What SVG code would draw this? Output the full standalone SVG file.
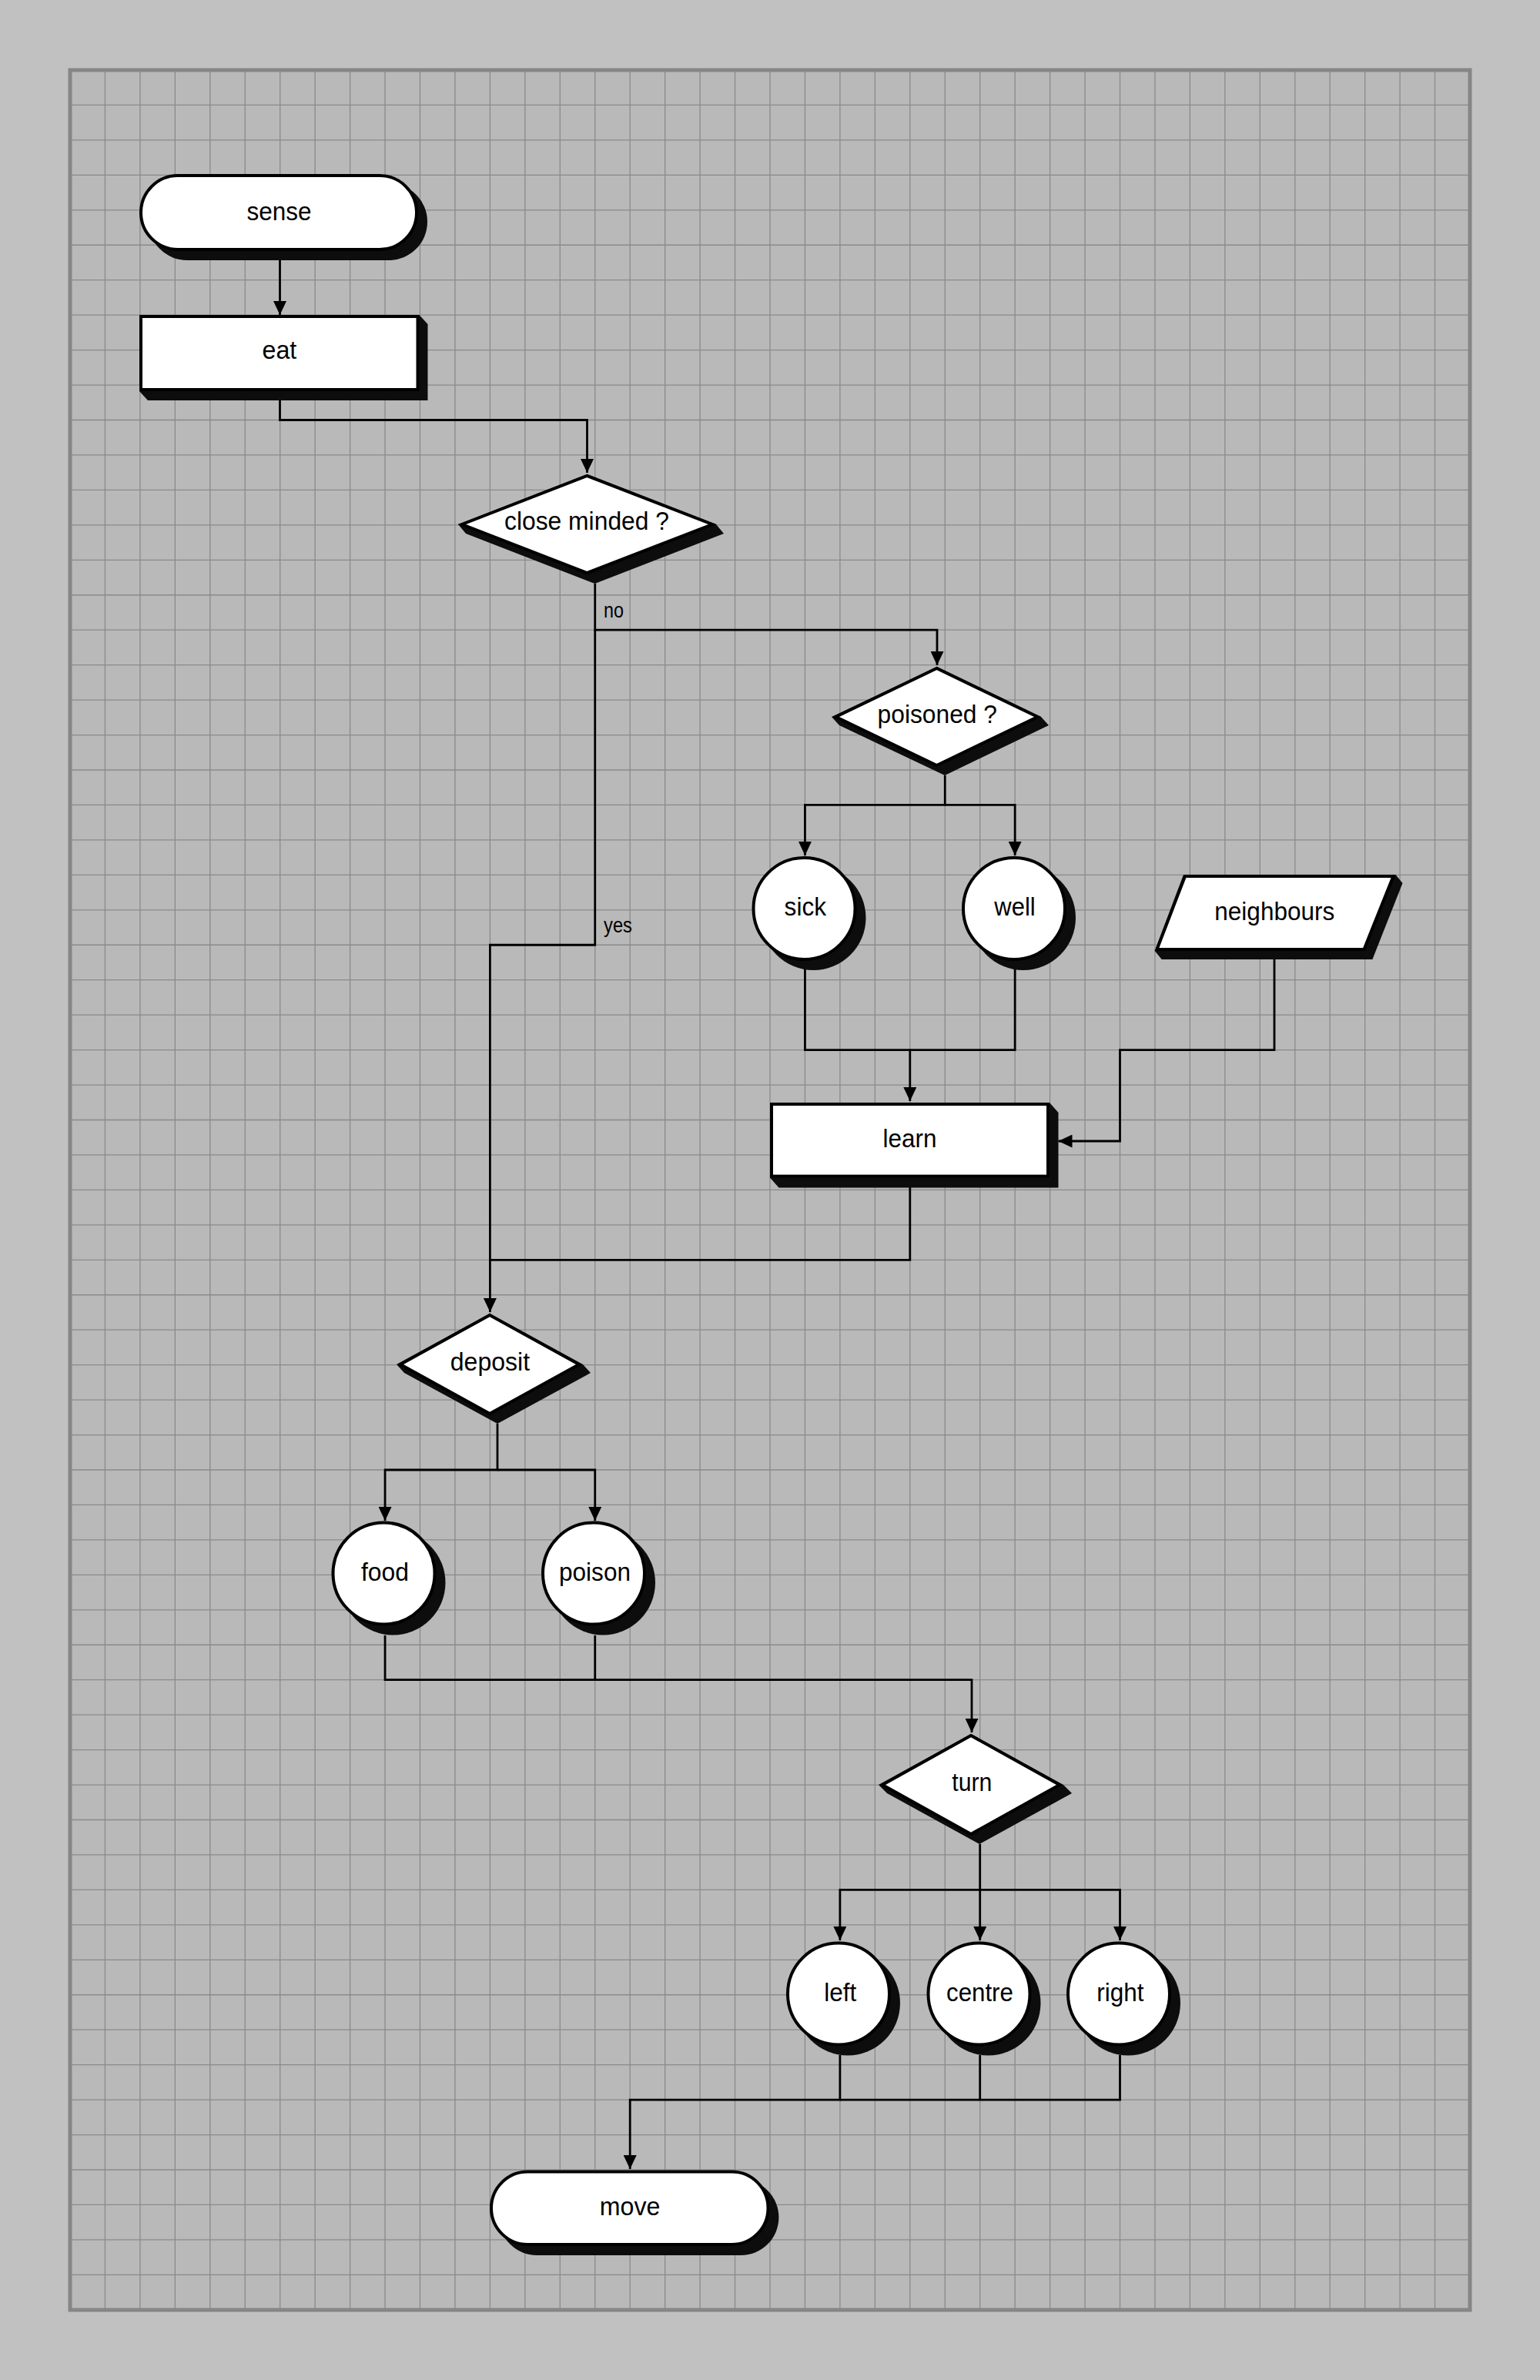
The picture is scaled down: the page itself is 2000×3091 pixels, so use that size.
<svg xmlns="http://www.w3.org/2000/svg" width="2000" height="3091" viewBox="0 0 2000 3091">
<defs>
<style>
.shape{fill:#ffffff;stroke:#000000;stroke-width:4;stroke-linejoin:miter}
.shadow{fill:#0d0d0d;stroke:none}
.lbl{font-family:"Liberation Sans",Arial,Helvetica,sans-serif;font-size:34px;fill:#000000}
.elbl{font-family:"Liberation Sans",Arial,Helvetica,sans-serif;font-size:27px;fill:#000000}
.conn{fill:none;stroke:#000000;stroke-width:2.8;stroke-linejoin:miter}
.arrow{marker-end:url(#ah)}
.grid{fill:none;stroke:#8a8a8a;stroke-width:1.3}
</style>
<marker id="ah" markerUnits="userSpaceOnUse" markerWidth="18" markerHeight="17" refX="18" refY="8.5" orient="auto">
<path d="M0,0 L18,8.5 L0,17 Z" fill="#000000"/>
</marker>
</defs>

<g id="background">
<rect x="0" y="0" width="2000" height="3091" fill="#c1c1c1"/>
<rect x="91" y="91" width="1818" height="2909" fill="#b9b9b9"/>
<path class="grid" d="M136.45,91V3000M181.9,91V3000M227.35,91V3000M272.8,91V3000M318.25,91V3000M363.7,91V3000M409.15,91V3000M454.6,91V3000M500.05,91V3000M545.5,91V3000M590.95,91V3000M636.4,91V3000M681.85,91V3000M727.3,91V3000M772.75,91V3000M818.2,91V3000M863.65,91V3000M909.1,91V3000M954.55,91V3000M1000,91V3000M1045.45,91V3000M1090.9,91V3000M1136.35,91V3000M1181.8,91V3000M1227.25,91V3000M1272.7,91V3000M1318.15,91V3000M1363.6,91V3000M1409.05,91V3000M1454.5,91V3000M1499.95,91V3000M1545.4,91V3000M1590.85,91V3000M1636.3,91V3000M1681.75,91V3000M1727.2,91V3000M1772.65,91V3000M1818.1,91V3000M1863.55,91V3000
M91,136.45H1909M91,181.9H1909M91,227.35H1909M91,272.8H1909M91,318.25H1909M91,363.7H1909M91,409.15H1909M91,454.6H1909M91,500.05H1909M91,545.5H1909M91,590.95H1909M91,636.4H1909M91,681.85H1909M91,727.3H1909M91,772.75H1909M91,818.2H1909M91,863.65H1909M91,909.1H1909M91,954.55H1909M91,1000H1909M91,1045.45H1909M91,1090.9H1909M91,1136.35H1909M91,1181.8H1909M91,1227.25H1909M91,1272.7H1909M91,1318.15H1909M91,1363.6H1909M91,1409.05H1909M91,1454.5H1909M91,1499.95H1909M91,1545.4H1909M91,1590.85H1909M91,1636.3H1909M91,1681.75H1909M91,1727.2H1909M91,1772.65H1909M91,1818.1H1909M91,1863.55H1909M91,1909H1909M91,1954.45H1909M91,1999.9H1909M91,2045.35H1909M91,2090.8H1909M91,2136.25H1909M91,2181.7H1909M91,2227.15H1909M91,2272.6H1909M91,2318.05H1909M91,2363.5H1909M91,2408.95H1909M91,2454.4H1909M91,2499.85H1909M91,2545.3H1909M91,2590.75H1909M91,2636.2H1909M91,2681.65H1909M91,2727.1H1909M91,2772.55H1909M91,2818H1909M91,2863.45H1909M91,2908.9H1909M91,2954.35H1909"/>
<rect x="91" y="91" width="1818" height="2909" fill="none" stroke="#868686" stroke-width="5"/>
</g>

<g id="connectors">
<path class="conn arrow" d="M363.5,338 V409"/>
<path class="conn arrow" d="M363.5,520 V545.5 H762.5 V614"/>
<path class="conn arrow" d="M772.75,758 V818.2 H1217 V864"/>
<path class="conn arrow" d="M772.75,818.2 V1227.25 H636.4 V1704"/>
<path class="conn arrow" d="M1227.25,1007 V1045.45 H1045.45 V1111"/>
<path class="conn arrow" d="M1227.25,1045.45 H1318.15 V1111"/>
<path class="conn arrow" d="M1045.45,1255 V1363.6 H1181.8 V1430"/>
<path class="conn" d="M1318.15,1255 V1363.6 H1181.8"/>
<path class="conn arrow" d="M1655,1246 V1363.6 H1454.5 V1482 H1374.5"/>
<path class="conn" d="M1181.8,1542 V1636.3 H636.4"/>
<path class="conn arrow" d="M646,1849 V1909 H500.05 V1975"/>
<path class="conn arrow" d="M646,1909 H772.75 V1975"/>
<path class="conn arrow" d="M500.05,2124 V2181.7 H1262 V2250"/>
<path class="conn" d="M772.75,2124 V2181.7"/>
<path class="conn arrow" d="M1272.7,2395 V2454.4 H1090.9 V2520"/>
<path class="conn arrow" d="M1272.7,2454.4 V2520"/>
<path class="conn arrow" d="M1272.7,2454.4 H1454.5 V2520"/>
<path class="conn arrow" d="M1090.9,2669 V2727.1 H818.2 V2817"/>
<path class="conn" d="M1272.7,2669 V2727.1"/>
<path class="conn" d="M1454.5,2669 V2727.1 H1090.9"/>
<text class="elbl" x="784" y="802" textLength="26" lengthAdjust="spacingAndGlyphs">no</text>
<text class="elbl" x="784" y="1211" textLength="37" lengthAdjust="spacingAndGlyphs">yes</text>
</g>

<g id="node-sense">
<rect class="shadow" x="193" y="238" width="362" height="100" rx="50" ry="50"/>
<rect class="shape" x="183" y="228" width="358" height="96" rx="48" ry="48"/>
<text class="lbl" x="320.5" y="286" textLength="84" lengthAdjust="spacingAndGlyphs">sense</text>
</g>

<g id="node-eat">
<polygon class="shadow" points="181,409 544.5,409 555.5,421 555.5,520 192,520 181,508"/>
<rect class="shape" x="183" y="411" width="359.5" height="95"/>
<text class="lbl" x="340.5" y="466" textLength="44.8" lengthAdjust="spacingAndGlyphs">eat</text>
</g>

<g id="node-close-minded">
<polygon class="shadow" points="762.5,616 930,681 940,693 772.5,758 605,693 595,681"/>
<polygon class="shape" points="600,681 762.5,618 925,681 762.5,744"/>
<text class="lbl" x="655" y="688" textLength="214" lengthAdjust="spacingAndGlyphs">close minded ?</text>
</g>

<g id="node-poisoned">
<polygon class="shadow" points="1217,866 1352,931 1362,942 1227,1007 1090,942 1080,931"/>
<polygon class="shape" points="1085.5,931 1216.5,868 1347.5,931 1216.5,994"/>
<text class="lbl" x="1139.6" y="939" textLength="155.4" lengthAdjust="spacingAndGlyphs">poisoned ?</text>
</g>

<g id="node-sick">
<circle class="shadow" cx="1056.5" cy="1192" r="68"/>
<circle class="shape" cx="1044.5" cy="1180" r="66"/>
<text class="lbl" x="1018.6" y="1189" textLength="54.5" lengthAdjust="spacingAndGlyphs">sick</text>
</g>

<g id="node-well">
<circle class="shadow" cx="1329" cy="1192" r="68"/>
<circle class="shape" cx="1317" cy="1180" r="66"/>
<text class="lbl" x="1291.3" y="1189" textLength="53.4" lengthAdjust="spacingAndGlyphs">well</text>
</g>

<g id="node-neighbours">
<polygon class="shadow" points="1537,1136 1812.5,1136 1821.5,1147 1782.4,1246 1508.7,1246 1499.7,1235"/>
<polygon class="shape" points="1539,1138 1809.5,1138 1771.5,1233 1502.5,1233"/>
<text class="lbl" x="1577.3" y="1195" textLength="156" lengthAdjust="spacingAndGlyphs">neighbours</text>
</g>

<g id="node-learn">
<polygon class="shadow" points="1000,1432 1363,1432 1374.5,1445 1374.5,1542.6 1011.5,1542.6 1000,1529.6"/>
<rect class="shape" x="1002" y="1434" width="359" height="93.6"/>
<text class="lbl" x="1146.6" y="1490" textLength="70" lengthAdjust="spacingAndGlyphs">learn</text>
</g>

<g id="node-deposit">
<polygon class="shadow" points="636,1706 757,1772 767,1783 646,1849 525,1783 515,1772"/>
<polygon class="shape" points="520,1772 636,1708 752,1772 636,1836"/>
<text class="lbl" x="584.8" y="1780" textLength="103.3" lengthAdjust="spacingAndGlyphs">deposit</text>
</g>

<g id="node-food">
<circle class="shadow" cx="510.5" cy="2055.5" r="68"/>
<circle class="shape" cx="498.5" cy="2043.5" r="66"/>
<text class="lbl" x="468.9" y="2053" textLength="62" lengthAdjust="spacingAndGlyphs">food</text>
</g>

<g id="node-poison">
<circle class="shadow" cx="783" cy="2055.5" r="68"/>
<circle class="shape" cx="771" cy="2043.5" r="66"/>
<text class="lbl" x="726" y="2053" textLength="93" lengthAdjust="spacingAndGlyphs">poison</text>
</g>

<g id="node-turn">
<polygon class="shadow" points="1261,2252 1381,2318 1392,2329 1272,2395 1152,2329 1141,2318"/>
<polygon class="shape" points="1146,2318 1261,2254 1376,2318 1261,2382"/>
<text class="lbl" x="1236.3" y="2326" textLength="52" lengthAdjust="spacingAndGlyphs">turn</text>
</g>

<g id="node-left">
<circle class="shadow" cx="1101" cy="2601.5" r="68"/>
<circle class="shape" cx="1089" cy="2589.5" r="66"/>
<text class="lbl" x="1070.2" y="2599" textLength="42.1" lengthAdjust="spacingAndGlyphs">left</text>
</g>

<g id="node-centre">
<circle class="shadow" cx="1283.5" cy="2601.5" r="68"/>
<circle class="shape" cx="1271.5" cy="2589.5" r="66"/>
<text class="lbl" x="1229" y="2599" textLength="86.9" lengthAdjust="spacingAndGlyphs">centre</text>
</g>

<g id="node-right">
<circle class="shadow" cx="1465" cy="2601.5" r="68"/>
<circle class="shape" cx="1453" cy="2589.5" r="66"/>
<text class="lbl" x="1424.2" y="2599" textLength="61.2" lengthAdjust="spacingAndGlyphs">right</text>
</g>

<g id="node-move">
<rect class="shadow" x="648" y="2830.6" width="363.4" height="98.4" rx="49.2" ry="49.2"/>
<rect class="shape" x="638" y="2820.5" width="359.5" height="94.5" rx="47.25" ry="47.25"/>
<text class="lbl" x="778.8" y="2877" textLength="78.6" lengthAdjust="spacingAndGlyphs">move</text>
</g>
</svg>
